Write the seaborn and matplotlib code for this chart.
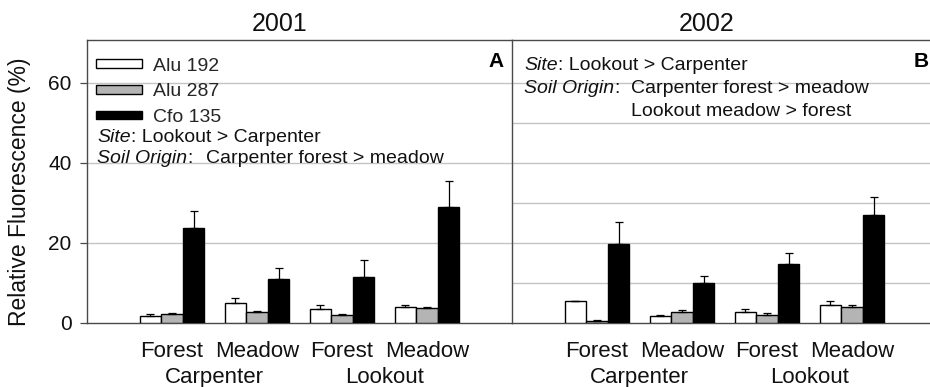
import matplotlib
matplotlib.use("Agg")
import matplotlib.pyplot as plt
import matplotlib.transforms as mtransforms
from matplotlib.patches import Patch
import numpy as np
import pandas as pd
import seaborn as sns

# ---- data -------------------------------------------------------------
habitats = ["Forest", "Meadow", "Forest", "Meadow"]
sites = ["Carpenter", "Lookout"]
groups = ["Carpenter Forest", "Carpenter Meadow", "Lookout Forest", "Lookout Meadow"]
enzymes = ["Alu 192", "Alu 287", "Cfo 135"]

# 2001 means and upper error (SE) per enzyme, order follows `groups`
alu192_2001 = [1.8, 5.0, 3.6, 3.9]
alu287_2001 = [2.25, 2.7, 2.05, 3.7]
cfo135_2001 = [23.7, 11.1, 11.6, 28.9]
alu192_2001_err = [0.45, 1.35, 0.9, 0.5]
alu287_2001_err = [0.25, 0.2, 0.25, 0.4]
cfo135_2001_err = [4.4, 2.6, 4.2, 6.7]

# 2002
alu192_2002 = [5.4, 1.65, 2.8, 4.45]
alu287_2002 = [0.6, 2.8, 2.05, 3.95]
cfo135_2002 = [19.75, 10.0, 14.7, 26.9]
alu192_2002_err = [0.1, 0.45, 0.7, 1.05]
alu287_2002_err = [0.1, 0.4, 0.5, 0.55]
cfo135_2002_err = [5.5, 1.8, 2.7, 4.6]

years = ["2001", "2002"]
panel_letters = ["A", "B"]


def long_table(a, b, c, ea, eb, ec):
    rows = []
    for name, vals, errs in zip(enzymes, [a, b, c], [ea, eb, ec]):
        for g, v, e in zip(groups, vals, errs):
            rows.append({"group": g, "enzyme": name, "value": v, "err": e})
    return pd.DataFrame(rows)


tables = [
    long_table(alu192_2001, alu287_2001, cfo135_2001,
               alu192_2001_err, alu287_2001_err, cfo135_2001_err),
    long_table(alu192_2002, alu287_2002, cfo135_2002,
               alu192_2002_err, alu287_2002_err, cfo135_2002_err),
]

# ---- style ------------------------------------------------------------
sns.set_theme(style="white")
plt.rcParams["font.family"] = ["Liberation Sans", "DejaVu Sans"]

palette = {"Alu 192": "#ffffff", "Alu 287": "#b4b4b4", "Cfo 135": "#000000"}
spine_col = "#4a4a4a"
grid_col = "#c4c4c4"
txt_col = "#111111"

W, H = 930, 387
fig = plt.figure(figsize=(W / 100, H / 100), dpi=100)

# panel geometry in pixels
AX_W, AX_H = 425, 283
y0, y1 = 323, 40
bottom = 1 - y0 / H
height = (y0 - y1) / H
axes = [fig.add_axes([87 / W, bottom, AX_W / W, height]),
        fig.add_axes([512 / W, bottom, AX_W / W, height])]

for i, (ax, df) in enumerate(zip(axes, tables)):
    sns.barplot(data=df, x="group", y="value", hue="enzyme", order=groups,
                hue_order=enzymes, palette=palette, width=0.76,
                edgecolor="black", linewidth=1.0, errorbar=None,
                legend=False, ax=ax, zorder=3)
    # upper error bars with caps
    for cont, name in zip(ax.containers, enzymes):
        sub = df[df["enzyme"] == name].set_index("group").loc[groups]
        xs = [b.get_x() + b.get_width() / 2 for b in cont]
        ax.errorbar(xs, sub["value"].values,
                    yerr=[np.zeros(len(xs)), sub["err"].values],
                    fmt="none", ecolor="black", elinewidth=0.9,
                    capsize=3, capthick=0.9, zorder=4)

    ax.set_xlim(-1, 4)
    ax.set_ylim(0, 70.75)
    ax.set_xlabel("")
    ax.set_ylabel("")
    ax.set_xticks(range(4))
    ax.set_xticklabels(habitats, fontsize=16, color=txt_col)
    ax.tick_params(axis="x", length=0, pad=13)

    if i == 0:
        ax.set_yticks([0, 20, 40, 60])
        ax.set_yticklabels(["0", "20", "40", "60"], fontsize=15, color=txt_col)
        ax.tick_params(axis="y", length=5, width=0.9, color=spine_col,
                       left=True, pad=6)
        for yv in [20, 40, 60]:
            ax.axhline(yv, color=grid_col, lw=1.0, zorder=0)
    else:
        ax.set_yticks([])
        for yv in [10, 20, 30, 40, 50, 60]:
            ax.axhline(yv, color=grid_col, lw=1.0, zorder=0)

    for side in ["left", "top", "bottom"]:
        ax.spines[side].set_visible(True)
        ax.spines[side].set_color(spine_col)
        ax.spines[side].set_linewidth(1.0)
    ax.spines["right"].set_visible(False)

    # site names beneath each pair of habitats
    trans = mtransforms.blended_transform_factory(ax.transData, ax.transAxes)
    for xc, s in zip([0.5, 2.5], sites):
        ax.text(xc, -0.155, s, transform=trans, ha="center", va="top",
                fontsize=16, color=txt_col)

    ax.text(1 - 8 / AX_W, 1 - 12 / AX_H, panel_letters[i],
            transform=ax.transAxes, ha="right", va="top", fontsize=15,
            fontweight="bold", color="black")

# year titles
fig.text(280 / W, 1 - 24 / H, years[0], ha="center", va="center",
         fontsize=18, color=txt_col)
fig.text(707 / W, 1 - 24 / H, years[1], ha="center", va="center",
         fontsize=18, color=txt_col)

fig.text(20 / W, 1 - 192 / H, "Relative Fluorescence (%)", rotation=90,
         ha="center", va="center", fontsize=16.5, color=txt_col)

# enzyme legend in the 2001 panel
handles = [Patch(facecolor=palette[n], edgecolor="black", linewidth=1.0)
           for n in enzymes]
axes[0].legend(handles, enzymes, loc="upper left",
               bbox_to_anchor=(-5 / AX_W, 1 - 4 / AX_H), frameon=False,
               fontsize=14, handlelength=2.4, handleheight=0.3,
               handletextpad=0.55, labelspacing=0.45, borderaxespad=0.3)

fig.canvas.draw()


def put_note(ax, x_px, y_px, italic, plain):
    """Italic lead word directly followed by regular text."""
    t = ax.text(x_px / AX_W, 1 - y_px / AX_H, italic, style="italic",
                transform=ax.transAxes, ha="left", va="center",
                fontsize=14, color=txt_col)
    fig.canvas.draw()
    bb = t.get_window_extent().transformed(ax.transAxes.inverted())
    ax.text(bb.x1, 1 - y_px / AX_H, plain, transform=ax.transAxes,
            ha="left", va="center", fontsize=14, color=txt_col)


def put_plain(ax, x_px, y_px, s):
    ax.text(x_px / AX_W, 1 - y_px / AX_H, s, transform=ax.transAxes,
            ha="left", va="center", fontsize=14, color=txt_col)


put_note(axes[0], 10, 98, "Site", ": Lookout > Carpenter")
put_note(axes[0], 10, 119, "Soil Origin", ":")
put_plain(axes[0], 119, 119, "Carpenter forest > meadow")

put_note(axes[1], 12, 26, "Site", ": Lookout > Carpenter")
put_note(axes[1], 12, 49, "Soil Origin", ":")
put_plain(axes[1], 119, 49, "Carpenter forest > meadow")
put_plain(axes[1], 119, 72, "Lookout meadow > forest")

fig.savefig("out.png", dpi=100, facecolor="white")
